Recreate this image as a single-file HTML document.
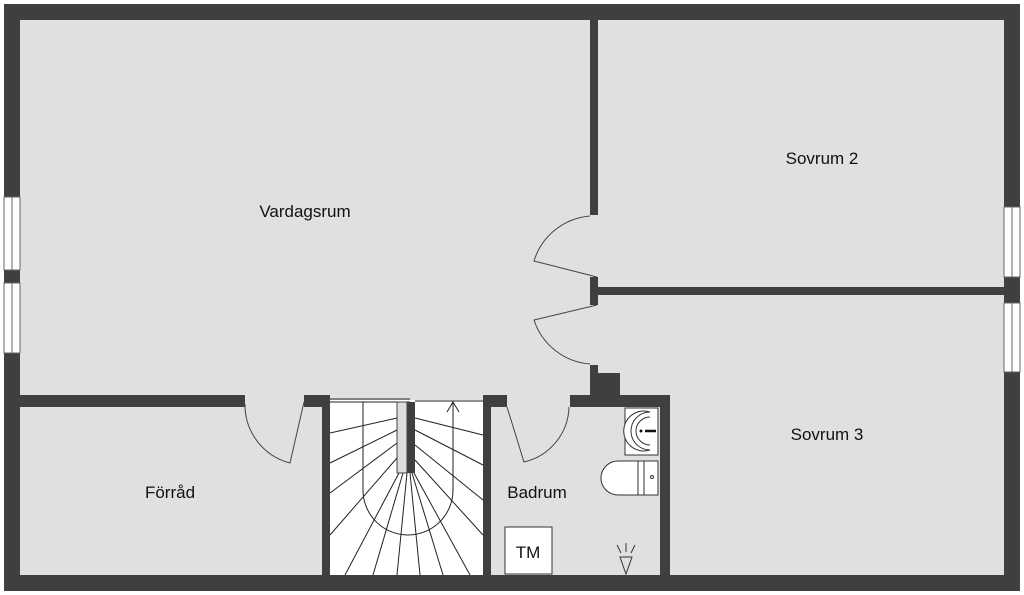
<!DOCTYPE html>
<html><head><meta charset="utf-8"><style>
html,body{margin:0;padding:0;background:#fff;}
svg{display:block;}
text{font-family:"Liberation Sans",sans-serif;font-size:17px;fill:#111;}
</style></head><body>
<svg width="1024" height="595" viewBox="0 0 1024 595">
<rect x="0" y="0" width="1024" height="595" fill="#fff"/>
<!-- floor -->
<rect x="20" y="20" width="984" height="555" fill="#e0e0e0"/>
<rect x="330" y="400" width="153" height="175" fill="#fff"/>
<g fill="#3f3f3d">
<!-- outer walls -->
<rect x="4" y="4" width="1016" height="16"/>
<rect x="4" y="575" width="1016" height="16"/>
<rect x="4" y="4" width="16" height="587"/>
<rect x="1004" y="4" width="16" height="587"/>
<!-- interior verticals -->
<rect x="590" y="20" width="8" height="195"/>
<rect x="590" y="277" width="8" height="28"/>
<rect x="598" y="287" width="406" height="8"/>
<rect x="590" y="365" width="8" height="42"/>
<rect x="598" y="373" width="22" height="34"/>
<!-- horizontal wall -->
<rect x="20" y="395" width="225" height="12"/>
<rect x="304" y="395" width="26" height="12"/>
<rect x="322" y="395" width="8" height="180"/>
<rect x="483" y="395" width="24" height="12"/>
<rect x="483" y="395" width="8" height="180"/>
<rect x="570" y="395" width="100" height="12"/>
<rect x="660" y="395" width="10" height="180"/>
</g>
<!-- windows -->
<g fill="#fff" stroke="#666" stroke-width="1">
<rect x="4" y="197" width="16" height="73"/>
<rect x="4" y="283" width="16" height="70"/>
<rect x="1004" y="207" width="16" height="70"/>
<rect x="1004" y="303" width="16" height="69"/>
</g>
<g stroke="#666" stroke-width="1"><line x1="12" y1="197" x2="12" y2="270"/><line x1="12" y1="283" x2="12" y2="353"/><line x1="1012" y1="207" x2="1012" y2="277"/><line x1="1012" y1="303" x2="1012" y2="372"/></g>
<!-- doors -->
<g fill="none" stroke="#444" stroke-width="1">
<path d="M597 277 L534 261 A64 64 0 0 1 590 216"/>
<path d="M597 305 L534 320 A64 64 0 0 0 590 364"/>
<path d="M304 402 L290 463 A60 60 0 0 1 245 404"/>
<path d="M507 407 L524 462 A58 58 0 0 0 569 407"/>
</g>
<!-- stairs -->
<g fill="none" stroke="#222" stroke-width="1">
<line x1="330" y1="399" x2="410" y2="399"/><line x1="330" y1="402" x2="410" y2="402"/>
<line x1="415" y1="401" x2="483" y2="401"/>
<path d="M363 402 L363 490 A45 45 0 0 0 453 490 L453 402"/>
<path d="M447 412 L453 402 L459 412"/>
<line x1="397" y1="418" x2="330" y2="433"/>
<line x1="397" y1="430" x2="330" y2="463"/>
<line x1="397" y1="443" x2="330" y2="493"/>
<line x1="397" y1="458" x2="330" y2="535"/>
<line x1="399" y1="473" x2="345" y2="575"/>
<line x1="403" y1="473" x2="373" y2="575"/>
<line x1="407" y1="473" x2="397" y2="575"/>
<line x1="410" y1="473" x2="420" y2="575"/>
<line x1="412" y1="473" x2="443" y2="575"/>
<line x1="414" y1="473" x2="470" y2="575"/>
<line x1="415" y1="418" x2="483" y2="435"/>
<line x1="415" y1="430" x2="483" y2="465"/>
<line x1="415" y1="445" x2="483" y2="500"/>
<line x1="415" y1="460" x2="483" y2="535"/>
</g>
<rect x="397" y="402" width="10" height="71" fill="#ddd" stroke="#444" stroke-width="1"/>
<rect x="407" y="402" width="8" height="71" fill="#3f3f3d"/>
<!-- sink -->
<g fill="#fff" stroke="#333" stroke-width="1">
<rect x="625" y="408" width="33" height="47"/>
<path d="M650 412 A20 20 0 1 0 650 450 A14 14 0 0 1 650 412 Z"/>
<path d="M650 417 A14 14 0 1 0 650 445 A10 10 0 0 1 650 417 Z"/>
<rect x="638" y="461" width="20" height="34"/>
<path d="M638 461 L618 461 A17 17 0 0 0 618 495 L638 495 Z"/>
<line x1="644" y1="461" x2="644" y2="495"/>
<circle cx="652" cy="477" r="1.5"/>
<rect x="505" y="527" width="47" height="47"/>
</g>
<line x1="645" y1="431" x2="656" y2="431" stroke="#111" stroke-width="2.5"/>
<circle cx="641" cy="431" r="1.5" fill="#111"/>
<g fill="none" stroke="#333" stroke-width="1">
<path d="M620 557 L632 557 L626 574 Z"/>
<line x1="626" y1="543" x2="626" y2="552"/><line x1="617" y1="545" x2="621" y2="553"/><line x1="635" y1="545" x2="631" y2="553"/>
</g>
<!-- labels -->
<text x="305" y="217" text-anchor="middle">Vardagsrum</text>
<text x="822" y="164" text-anchor="middle">Sovrum 2</text>
<text x="827" y="440" text-anchor="middle">Sovrum 3</text>
<text x="170" y="498" text-anchor="middle">Förråd</text>
<text x="537" y="498" text-anchor="middle">Badrum</text>
<text x="528" y="558" text-anchor="middle">TM</text>
</svg>
</body></html>
